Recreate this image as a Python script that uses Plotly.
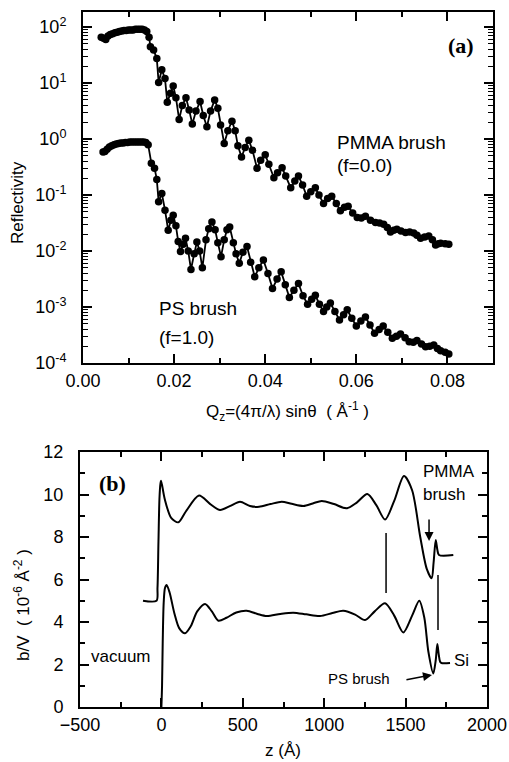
import plotly.graph_objects as go

# ---------------- Panel (a): reflectivity data ----------------
q_pmma = [0.0040, 0.0045, 0.0050, 0.0055, 0.0060, 0.0065, 0.0070, 0.0075, 0.0080, 0.0085,
          0.0090, 0.0095, 0.0100, 0.0105, 0.0110, 0.0115, 0.0120, 0.0125, 0.0130, 0.0135,
          0.0140, 0.0145, 0.0148, 0.0155, 0.0162, 0.0166, 0.0173, 0.0180, 0.0185, 0.0192,
          0.0198, 0.0204, 0.0211, 0.0218, 0.0226, 0.0233, 0.0240, 0.0248, 0.0257, 0.0264,
          0.0272, 0.0280, 0.0289, 0.0296, 0.0302, 0.0310, 0.0318, 0.0327, 0.0334, 0.0340,
          0.0348, 0.0356, 0.0364, 0.0372, 0.0382, 0.0390, 0.0400, 0.0408, 0.0419, 0.0427,
          0.0437, 0.0445, 0.0456, 0.0465, 0.0473, 0.0482, 0.0491, 0.0500, 0.0510, 0.0518,
          0.0528, 0.0537, 0.0546, 0.0556, 0.0565, 0.0574, 0.0582, 0.0592, 0.0602, 0.0611,
          0.0620, 0.0631, 0.0642, 0.0651, 0.0660, 0.0668, 0.0675, 0.0682, 0.0689, 0.0698,
          0.0708, 0.0717, 0.0726, 0.0733, 0.0741, 0.0750, 0.0759, 0.0767, 0.0774, 0.0780,
          0.0785, 0.0795, 0.0803]
log10_r_pmma = [1.82, 1.80, 1.78, 1.84, 1.87, 1.88, 1.90, 1.91, 1.92, 1.93,
                1.94, 1.94, 1.95, 1.95, 1.95, 1.96, 1.96, 1.96, 1.96, 1.95,
                1.92, 1.82, 1.65, 1.59, 1.44, 1.01, 1.24, 1.08, 0.66, 0.82,
                0.95, 0.74, 0.35, 0.60, 0.74, 0.52, 0.27, 0.50, 0.67, 0.42,
                0.22, 0.50, 0.70, 0.55, 0.25, -0.08, 0.15, 0.32, 0.15, -0.12,
                -0.32, -0.15, -0.02, -0.20, -0.52, -0.38, -0.28, -0.45, -0.69, -0.60,
                -0.51, -0.66, -0.87, -0.75, -0.66, -0.82, -1.02, -0.94, -0.87, -1.00,
                -1.15, -1.06, -1.02, -1.15, -1.28, -1.22, -1.20, -1.32, -1.40, -1.41,
                -1.38, -1.45, -1.49, -1.50, -1.52, -1.58, -1.66, -1.63, -1.61, -1.64,
                -1.67, -1.66, -1.68, -1.72, -1.77, -1.75, -1.73, -1.80, -1.89, -1.87,
                -1.86, -1.87, -1.88]

q_ps = [0.0044, 0.0048, 0.0053, 0.0058, 0.0063, 0.0068, 0.0073, 0.0078, 0.0083, 0.0088,
        0.0093, 0.0098, 0.0103, 0.0108, 0.0113, 0.0118, 0.0123, 0.0128, 0.0133, 0.0138,
        0.0143, 0.0150, 0.0157, 0.0162, 0.0166, 0.0173, 0.0180, 0.0187, 0.0193, 0.0198,
        0.0204, 0.0209, 0.0214, 0.0220, 0.0225, 0.0231, 0.0237, 0.0244, 0.0250, 0.0256,
        0.0262, 0.0270, 0.0276, 0.0283, 0.0290, 0.0296, 0.0303, 0.0310, 0.0316, 0.0322,
        0.0330, 0.0336, 0.0343, 0.0351, 0.0360, 0.0368, 0.0377, 0.0386, 0.0396, 0.0406,
        0.0416, 0.0426, 0.0435, 0.0444, 0.0453, 0.0463, 0.0473, 0.0483, 0.0493, 0.0502,
        0.0510, 0.0519, 0.0528, 0.0535, 0.0543, 0.0553, 0.0563, 0.0572, 0.0580, 0.0590,
        0.0600, 0.0610, 0.0620, 0.0630, 0.0640, 0.0650, 0.0659, 0.0669, 0.0679, 0.0688,
        0.0697, 0.0707, 0.0716, 0.0725, 0.0733, 0.0743, 0.0752, 0.0761, 0.0770, 0.0778,
        0.0785, 0.0795, 0.0803]
log10_r_ps = [-0.23, -0.22, -0.18, -0.14, -0.12, -0.10, -0.09, -0.08, -0.07, -0.07,
              -0.06, -0.06, -0.05, -0.05, -0.05, -0.05, -0.05, -0.05, -0.05, -0.06,
              -0.10, -0.43, -0.52, -0.72, -1.12, -0.97, -1.27, -1.63, -1.45, -1.36,
              -1.55, -1.83, -2.01, -1.88, -1.77, -2.00, -2.33, -2.05, -1.84, -2.00,
              -2.30, -1.80, -1.60, -1.48, -1.62, -1.85, -2.10, -1.80, -1.62, -1.57,
              -1.85, -2.05, -2.22, -2.02, -1.92, -2.20, -2.46, -2.30, -2.16, -2.40,
              -2.67, -2.50, -2.37, -2.60, -2.83, -2.70, -2.58, -2.80, -2.95, -2.86,
              -2.79, -2.95, -3.08, -3.00, -2.93, -3.08, -3.23, -3.14, -3.05, -3.20,
              -3.34, -3.25, -3.18, -3.32, -3.47, -3.40, -3.34, -3.45, -3.56, -3.52,
              -3.48, -3.55, -3.62, -3.63, -3.60, -3.66, -3.71, -3.70, -3.68, -3.74,
              -3.78, -3.81, -3.84]

r_pmma = [10 ** v for v in log10_r_pmma]
r_ps = [10 ** v for v in log10_r_ps]

# ---------------- Panel (b): scattering length density profiles ----------------
z_pmma = [-113, -30, -24, -18, -12, -6, -2, 20, 60, 104, 150, 231, 300, 360, 420, 483, 544,
          600, 670, 739, 800, 872, 930, 985, 1060, 1138, 1200, 1265, 1320, 1374, 1430,
          1490, 1540, 1590, 1630, 1660, 1672, 1685, 1695, 1705, 1793]
bv_pmma = [5.0, 5.0, 5.6, 7.8, 9.8, 10.5, 10.65, 9.8, 8.9, 8.69, 9.2, 9.95, 9.55, 9.27, 9.45,
           9.66, 9.46, 9.42, 9.55, 9.66, 9.56, 9.46, 9.58, 9.70, 9.55, 9.35, 9.62, 10.02, 9.5,
           8.82, 9.7, 10.87, 10.2, 8.0, 6.5, 6.06, 6.8, 7.86, 7.4, 7.15, 7.15]

z_ps = [0, 4, 8, 14, 22, 32, 50, 80, 110, 145, 180, 220, 268, 310, 350, 400, 460, 524,
        590, 647, 730, 810, 890, 974, 1050, 1117, 1190, 1251, 1310, 1374, 1430, 1486,
        1540, 1584, 1615, 1640, 1670, 1685, 1695, 1703, 1712, 1720, 1773]
bv_ps = [0.0, 1.0, 3.0, 4.9, 5.6, 5.74, 5.4, 4.4, 3.7, 3.47, 3.8, 4.5, 4.85, 4.5, 4.06,
         4.2, 4.45, 4.53, 4.38, 4.28, 4.38, 4.44, 4.36, 4.28, 4.42, 4.53, 4.35, 4.09, 4.5,
         4.88, 4.3, 3.51, 4.3, 5.0, 4.2, 2.6, 1.58, 2.2, 2.96, 2.5, 2.13, 2.07, 2.07]

# marker lines (interface positions) in panel (b)
seg_z = [1380, 1699]
seg_lo = [5.36, 3.62]
seg_hi = [8.19, 6.21]

# tick labels
ya_vals = [1e-4, 1e-3, 1e-2, 1e-1, 1e0, 1e1, 1e2]
ya_text = ["10<sup>-4</sup>", "10<sup>-3</sup>", "10<sup>-2</sup>", "10<sup>-1</sup>",
           "10<sup>0</sup>", "10<sup>1</sup>", "10<sup>2</sup>"]
xa_vals = [0.0, 0.02, 0.04, 0.06, 0.08]
xa_text = ["0.00", "0.02", "0.04", "0.06", "0.08"]

FONT = "Liberation Sans, Arial, sans-serif"
SERIF = "Liberation Serif, Times New Roman, serif"

fig = go.Figure()

mk = dict(color="black", size=7.5)
fig.add_trace(go.Scatter(x=q_pmma, y=r_pmma, mode="lines+markers", marker=mk,
                         line=dict(color="black", width=1.8), xaxis="x", yaxis="y",
                         showlegend=False))
fig.add_trace(go.Scatter(x=q_ps, y=r_ps, mode="lines+markers", marker=mk,
                         line=dict(color="black", width=1.8), xaxis="x", yaxis="y",
                         showlegend=False))

fig.add_trace(go.Scatter(x=z_pmma, y=bv_pmma, mode="lines", line_shape="spline",
                         line=dict(color="black", width=2, smoothing=0.8),
                         xaxis="x2", yaxis="y2", showlegend=False))
fig.add_trace(go.Scatter(x=z_ps, y=bv_ps, mode="lines", line_shape="spline",
                         line=dict(color="black", width=2, smoothing=0.8),
                         xaxis="x2", yaxis="y2", showlegend=False))
for zz, lo, hi in zip(seg_z, seg_lo, seg_hi):
    fig.add_trace(go.Scatter(x=[zz, zz], y=[lo, hi], mode="lines",
                             line=dict(color="black", width=1.5),
                             xaxis="x2", yaxis="y2", showlegend=False))

minor_log = [m * 10 ** e for e in range(-4, 3) for m in range(2, 10) if m * 10 ** e < 10 ** 2.27]

axis_common = dict(showline=True, linecolor="black", linewidth=2, mirror="allticks",
                   ticks="inside", tickcolor="black", tickwidth=1.5, showgrid=False,
                   zeroline=False, automargin=False,
                   tickfont=dict(family=FONT, size=18, color="black"))

fig.update_layout(
    width=509, height=762,
    margin=dict(l=0, r=0, t=0, b=0, pad=0, autoexpand=False),
    paper_bgcolor="white", plot_bgcolor="white",
    xaxis=dict(domain=[83 / 509, 493 / 509], anchor="y", range=[0, 0.09],
               tickvals=xa_vals, ticktext=xa_text, ticklen=9,
               minor=dict(tickvals=[0.01, 0.03, 0.05, 0.07], ticks="inside", ticklen=5,
                          tickcolor="black", tickwidth=1.5),
               **axis_common),
    yaxis=dict(domain=[1 - 363 / 762, 1 - 12 / 762], anchor="x", type="log",
               range=[-4, 2.27], tickvals=ya_vals, ticktext=ya_text, ticklen=9,
               minor=dict(tickvals=minor_log, ticks="inside", ticklen=5,
                          tickcolor="black", tickwidth=1.2),
               **axis_common),
    xaxis2=dict(domain=[80 / 509, 487 / 509], anchor="y2", range=[-500, 2000],
                tickvals=[-500, 0, 500, 1000, 1500, 2000], ticklen=9,
                minor=dict(tickvals=[-250, 250, 750, 1250, 1750], ticks="inside",
                           ticklen=5, tickcolor="black", tickwidth=1.5),
                **axis_common),
    yaxis2=dict(domain=[1 - 707 / 762, 1 - 452 / 762], anchor="x2", range=[0, 12],
                tickvals=[0, 2, 4, 6, 8, 10, 12], ticklen=9,
                minor=dict(tickvals=[1, 3, 5, 7, 9, 11], ticks="inside", ticklen=5,
                           tickcolor="black", tickwidth=1.5),
                **axis_common),
)
fig.update_yaxes(ticklabelstandoff=11)

def txt(x, y, s, xref, yref, size=18, family=FONT, xanchor="left", angle=0, yanchor="middle"):
    fig.add_annotation(x=x, y=y, xref=xref, yref=yref, text=s, showarrow=False,
                       xanchor=xanchor, yanchor=yanchor, textangle=angle,
                       font=dict(family=family, size=size, color="black"))

# Panel (a) texts
txt(0.0829, 1.68, "<b>(a)</b>", "x", "y", size=22, family=SERIF, xanchor="center")
txt(0.0554, -0.07, "PMMA brush", "x", "y", size=19)
txt(0.0554, -0.48, "(f=0.0)", "x", "y", size=19)
txt(0.0163, -3.02, "PS brush", "x", "y", size=19)
txt(0.0163, -3.54, "(f=1.0)", "x", "y", size=19)
txt(287 / 509, 1 - 411 / 762, "Q<sub>z</sub>=(4π/λ) sinθ  ( Å<sup>-1</sup> )", "paper", "paper",
    size=17, xanchor="center")
txt(17 / 509, 1 - 203 / 762, "Reflectivity", "paper", "paper", size=17, xanchor="center", angle=-90)

# Panel (b) texts
txt(-303, 10.54, "<b>(b)</b>", "x2", "y2", size=22, family=SERIF, xanchor="center")
txt(1595, 11.1, "PMMA", "x2", "y2", size=17)
txt(1595, 10.02, "brush", "x2", "y2", size=17)
txt(-445, 2.4, "vacuum", "x2", "y2", size=17)
txt(1785, 2.21, "Si", "x2", "y2", size=17)
txt(1417, 1.32, "PS brush", "x2", "y2", size=15, xanchor="right")
txt(283 / 509, 1 - 750 / 762, "z (Å)", "paper", "paper", size=17, xanchor="center")
txt(22 / 509, 1 - 605 / 762, "b/V  ( 10<sup>-6</sup> Å<sup>-2</sup> )", "paper", "paper",
    size=17, xanchor="center", angle=-90)

# arrows in panel (b)
fig.add_annotation(x=1644, y=7.81, ax=1644, ay=8.89, xref="x2", yref="y2", axref="x2", ayref="y2",
                   text="", showarrow=True, arrowhead=2, arrowsize=1.2, arrowwidth=1.5,
                   arrowcolor="black")
fig.add_annotation(x=1662, y=1.51, ax=1496, ay=1.27, xref="x2", yref="y2", axref="x2", ayref="y2",
                   text="", showarrow=True, arrowhead=2, arrowsize=1.2, arrowwidth=1.5,
                   arrowcolor="black")

fig.write_html("out.html", config={"displayModeBar": False},
               post_script="document.body.style.margin='0px';document.body.style.overflow='hidden';")
